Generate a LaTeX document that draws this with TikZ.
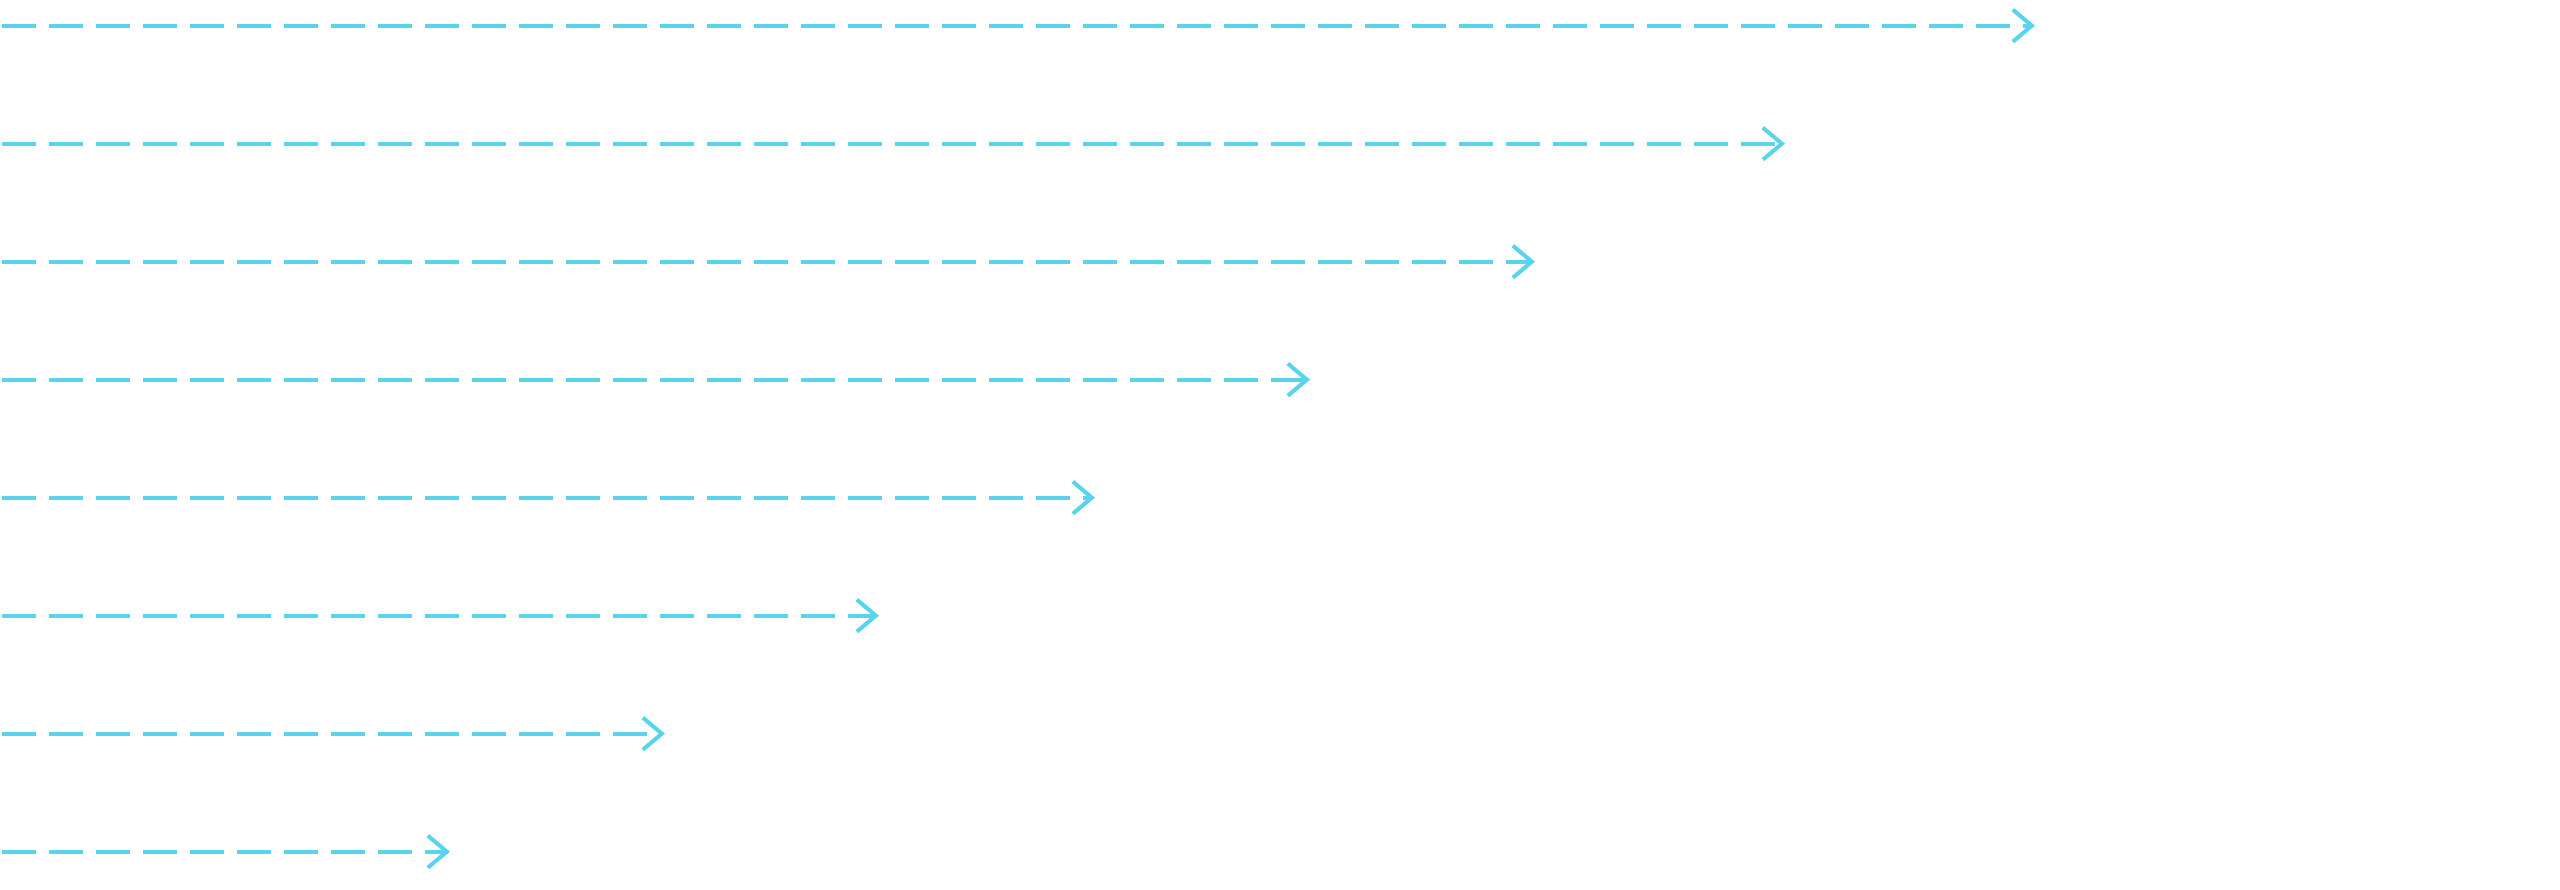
\documentclass[tikz,border=0pt]{standalone}
\usetikzlibrary{arrows.meta}
\definecolor{flowcyan}{RGB}{90,211,238}
\tikzset{
  flowline/.style={draw=flowcyan, line width=1.15pt, dash pattern=on 0.34cm off 0.13cm, dash phase=-0.02cm,
    -{Straight Barb[length=0.19cm,width=0.32cm,line cap=round,sharp]}},
}
\begin{document}
\begin{tikzpicture}
\useasboundingbox (0,0) rectangle (25.6,8.9);
\foreach \i/\x in {1/20.35,2/17.85,3/15.35,4/13.10,5/10.95,6/8.79,7/6.65,8/4.50}{
  \pgfmathsetmacro{\yy}{8.9-0.257-(\i-1)*1.18}
  \coordinate (s\i) at (0,\yy);
  \coordinate (e\i) at (\x,\yy);
  \draw[flowline] (s\i) -- (e\i);
}
\end{tikzpicture}
\end{document}
